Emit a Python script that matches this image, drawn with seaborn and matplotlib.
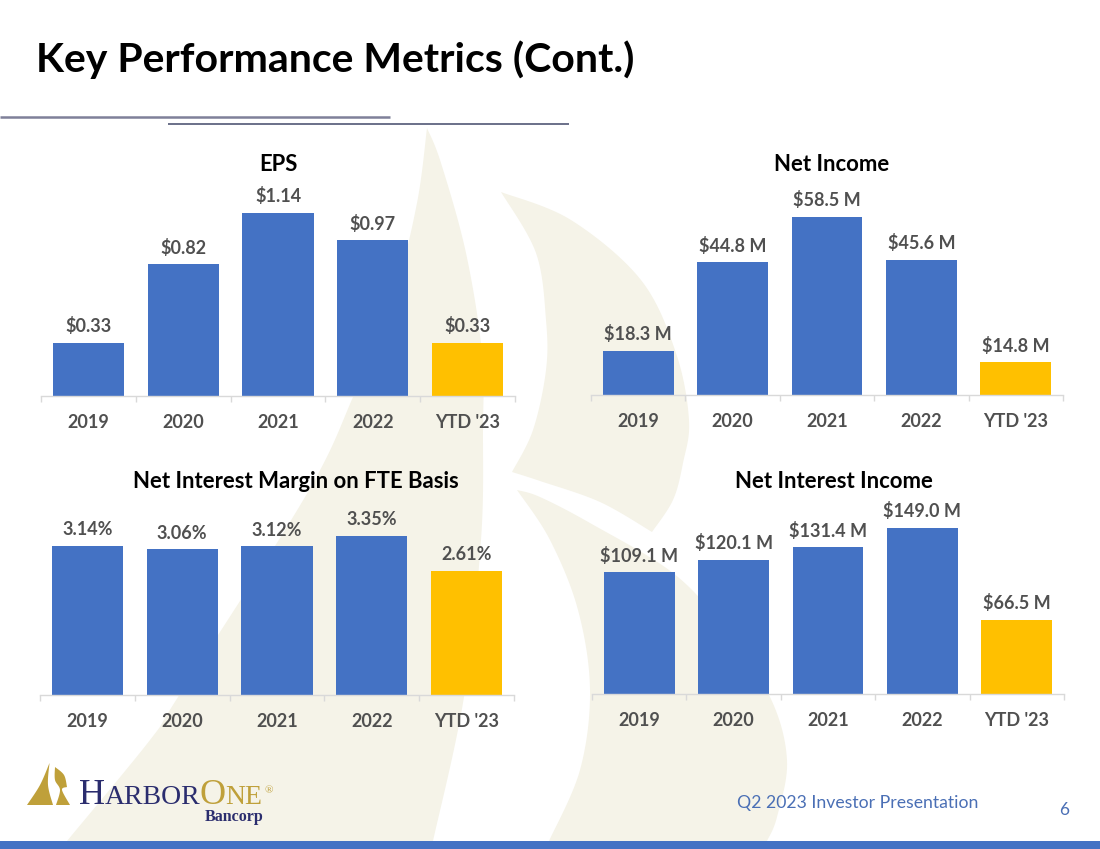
import numpy as np
import pandas as pd
import matplotlib
matplotlib.use("Agg")
import matplotlib.pyplot as plt
from matplotlib.patches import Polygon, Rectangle
from matplotlib.ticker import FixedLocator
import seaborn as sns

sns.set_theme(style="white")
plt.rcParams['font.family'] = ['Lato', 'DejaVu Sans']

# ---- data ----
categories = ["2019", "2020", "2021", "2022", "YTD '23"]
eps_values = [0.33, 0.82, 1.14, 0.97, 0.33]
eps_labels = ["$0.33", "$0.82", "$1.14", "$0.97", "$0.33"]
net_income_values = [18.3, 44.8, 58.5, 45.6, 14.8]
net_income_labels = ["$18.3 M", "$44.8 M", "$58.5 M", "$45.6 M", "$14.8 M"]
nim_values = [3.14, 3.06, 3.12, 3.35, 2.61]
nim_labels = ["3.14%", "3.06%", "3.12%", "3.35%", "2.61%"]
nii_values = [109.1, 120.1, 131.4, 149.0, 66.5]
nii_labels = ["$109.1 M", "$120.1 M", "$131.4 M", "$149.0 M", "$66.5 M"]

BLUE, GOLD = "#4472C4", "#FFC000"
TEXT = "#505050"
BEIGE = "#F5F3E8"
W, H = 1100, 849

fig = plt.figure(figsize=(W / 100, H / 100), dpi=100, facecolor="white")

# ---- slide backdrop in pixel coordinates ----
bg = fig.add_axes([0, 0, 1, 1], zorder=0)
bg.set_xlim(0, W); bg.set_ylim(H, 0); bg.axis("off")


def smooth(points, n=14):
    p = np.array(points, float)
    q = np.vstack([p[0], p, p[-1]])
    out = []
    for i in range(1, len(q) - 2):
        p0, p1, p2, p3 = q[i - 1], q[i], q[i + 1], q[i + 2]
        for t in np.linspace(0, 1, n, endpoint=False):
            out.append(0.5 * (2 * p1 + (p2 - p0) * t + (2 * p0 - 5 * p1 + 4 * p2 - p3) * t ** 2
                              + (3 * p1 - p0 - 3 * p2 + p3) * t ** 3))
    out.append(p[-1])
    return np.array(out)


def shape(edges, color):
    pts = np.vstack([smooth(e) for e in edges])
    bg.add_patch(Polygon(pts, closed=True, fc=color, ec="none"))


shape([[(427, 128), (441, 163), (466, 253), (482, 353), (483, 430), (481, 540), (464, 697), (433, 841)],
       [(67, 841), (150, 740), (178, 697), (305, 497), (353, 397), (395, 290), (417, 203), (427, 128)]], BEIGE)
shape([[(501, 192), (571, 220), (641, 280), (676, 353), (689, 420), (683, 463), (673, 500), (652, 532)],
       [(652, 532), (600, 502), (540, 481), (512, 472)],
       [(512, 472), (533, 430), (546, 370), (546, 320), (536, 253), (501, 192)]], BEIGE)
shape([[(517, 490), (540, 497), (590, 523), (673, 573), (723, 627), (770, 697), (787, 760), (777, 817), (767, 841)],
       [(549, 841), (580, 770), (590, 690), (578, 610), (550, 540), (517, 490)]], BEIGE)

# header rules and footer band
bg.plot([0, 390], [117, 117], color="#7F8099", lw=1.8, solid_capstyle="butt")
bg.plot([168, 569], [124, 124], color="#5F6480", lw=1.3, solid_capstyle="butt")
bg.add_patch(Rectangle((0, 841), W, 8, fc=BLUE, ec="none"))

bg.text(36, 72, "Key Performance Metrics (Cont.)", fontsize=29.5, fontweight="bold",
        color="black", ha="left", va="baseline")
bg.text(858, 803, "Q2 2023 Investor Presentation", fontsize=12.7, color="#4A6FB5",
        ha="center", va="center")
bg.text(1064, 810, "6", fontsize=12.5, color="#4A6FB5", ha="center", va="center")

# logo
LOGO_GOLD, NAVY = "#BFA03A", "#2B2D6E"
shape([[(49.5, 763), (48, 785), (53, 805)], [(53, 805), (27, 805)], [(27, 805), (40, 785), (49.5, 763)]], LOGO_GOLD)
shape([[(55, 767), (64, 775), (67, 787)], [(67, 787), (62, 790), (70, 805)],
       [(70, 805), (56, 805)], [(56, 805), (60, 790), (55, 780), (55, 767)]], LOGO_GOLD)
fig.canvas.draw()
renderer = fig.canvas.get_renderer()
x = 79.0
for s, size, col in [("H", 26, NAVY), ("ARBOR", 20, NAVY), ("O", 26, LOGO_GOLD), ("NE", 20, LOGO_GOLD)]:
    t = bg.text(x, 804, s, fontsize=size, color=col, family="Liberation Serif", ha="left", va="baseline")
    x = t.get_window_extent(renderer).x1 - 0.6
bg.text(x + 3, 793, "®", fontsize=8, color=LOGO_GOLD, family="Liberation Serif", ha="left", va="baseline")
bg.text(234, 821, "Bancorp", fontsize=11.5, fontweight="bold", color=NAVY,
        family="Liberation Serif", ha="center", va="baseline")


# ---- charts ----
def panel(x0, x1, base, top, values, labels, title, title_x, title_y, y_min, px_per_unit):
    ax = fig.add_axes([x0 / W, 1 - base / H, (x1 - x0) / W, (base - top) / H], zorder=2)
    ax.patch.set_alpha(0)
    frame = pd.DataFrame({"period": categories, "value": values})
    sns.barplot(data=frame, x="period", y="value", hue="period", dodge=False, legend=False,
                palette=[BLUE, BLUE, BLUE, BLUE, GOLD], width=0.75, saturation=1, linewidth=0, ax=ax)
    ax.set_xlim(-0.5, 4.5)
    ax.set_ylim(y_min, y_min + (base - top) / px_per_unit)
    sns.despine(ax=ax, left=True)
    ax.spines["bottom"].set_color("#D9D9D9")
    ax.spines["bottom"].set_linewidth(1)
    ax.set_xlabel(""); ax.set_ylabel(""); ax.set_yticks([])
    ax.xaxis.set_minor_locator(FixedLocator(np.arange(-0.5, 5)))
    ax.tick_params(axis="x", which="minor", bottom=True, length=4.5, width=1, color="#D9D9D9")
    ax.tick_params(axis="x", which="major", bottom=False, length=0, pad=13, labelsize=13, labelcolor=TEXT)
    for lab in ax.get_xticklabels():
        lab.set_fontweight("bold")
    for i, c in enumerate(ax.containers):
        ax.bar_label(c, labels=[labels[i]], padding=5.5, fontsize=13, fontweight="bold", color=TEXT)
    bg.text(title_x, title_y, title, fontsize=15.9, fontweight="bold", color="black",
            ha="center", va="center")


panel(41, 515, 396, 170, eps_values, eps_labels, "EPS", 278, 164, 0, 160.5)
panel(591, 1063, 395, 170, net_income_values, net_income_labels, "Net Income", 832, 164, 5, 3.33)
panel(40, 514, 695, 480, nim_values, nim_labels, "Net Interest Margin on FTE Basis", 296, 481, 0, 47.6)
panel(592, 1064, 694, 480, nii_values, nii_labels, "Net Interest Income", 834, 481, 0, 1.115)

fig.savefig("out.png", dpi=100, facecolor="white")
